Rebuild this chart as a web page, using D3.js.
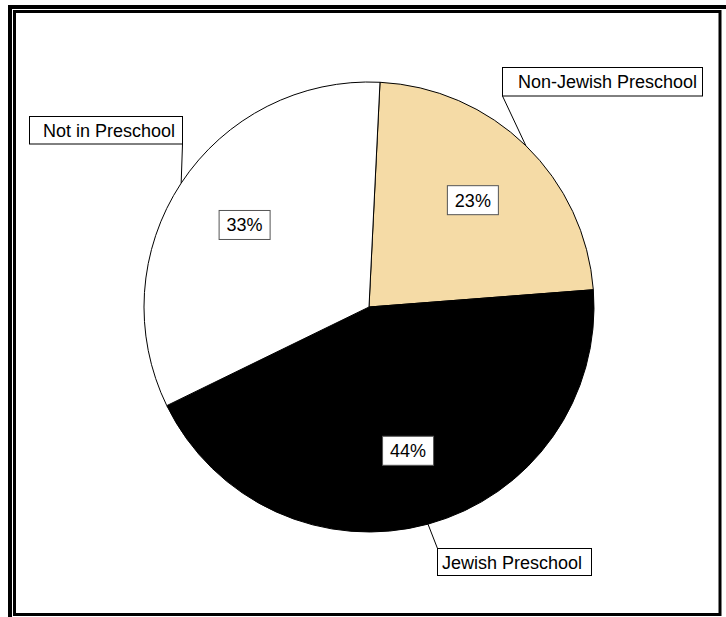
<!DOCTYPE html>
<html>
<head>
<meta charset="utf-8">
<script src="https://cdn.jsdelivr.net/npm/d3@7"></script>
<style>
  html, body { margin: 0; padding: 0; background: #fff; }
  svg { display: block; }
  text { font-family: "Liberation Sans", Arial, sans-serif; }
</style>
</head>
<body>
<svg id="chart" width="726" height="617"></svg>
<script>
// Preschool attendance shares
const categories = ["Non-Jewish Preschool", "Jewish Preschool", "Not in Preschool"];
const values = [23, 44, 33];
const colors = ["#F5DBA6", "#000000", "#FFFFFF"];
const pctLabels = ["23%", "44%", "33%"];

const W = 726, H = 617;
const svg = d3.select("#chart");

// double frame (outer heavy rule, inner thin rule)
svg.append("rect").attr("x", 10).attr("y", 7).attr("width", 730).attr("height", 620)
  .attr("fill", "none").attr("stroke", "#000").attr("stroke-width", 4);
svg.append("rect").attr("x", 14.5).attr("y", 11.5).attr("width", 705.5).attr("height", 603)
  .attr("fill", "none").attr("stroke", "#000").attr("stroke-width", 3);

const cx = 369, cy = 307, R = 225;
const start = 2.8 * Math.PI / 180;

const pie = d3.pie().sort(null).value(d => d)
  .startAngle(start).endAngle(start + 2 * Math.PI);
const arcs = pie(values);

const arc = d3.arc().innerRadius(0).outerRadius(R);
const labelArc = d3.arc().innerRadius(149).outerRadius(149);

const g = svg.append("g").attr("transform", `translate(${cx},${cy})`);

g.selectAll("path.slice").data(arcs).enter().append("path")
  .attr("class", "slice")
  .attr("d", arc)
  .attr("fill", (d, i) => colors[i])
  .attr("stroke", "#000").attr("stroke-width", 1);

// percentage tags at slice centroids
const tagW = 51, tagH = 29;
arcs.forEach((d, i) => {
  const [x, y] = labelArc.centroid(d);
  g.append("rect")
    .attr("x", x - tagW / 2).attr("y", y - tagH / 2)
    .attr("width", tagW).attr("height", tagH)
    .attr("fill", "#fff").attr("stroke", "#555").attr("stroke-width", 1);
  g.append("text")
    .attr("x", x).attr("y", y + 6.5)
    .attr("text-anchor", "middle")
    .attr("font-size", 18).attr("fill", "#000")
    .text(pctLabels[i]);
});

// category callouts: box placement and the corner the leader attaches to
const callouts = [
  { box: [502.5, 67.5, 200, 28.5], textX: 518, corner: [502.5, 96] },
  { box: [437.5, 548.5, 154, 27], textX: 442, corner: [437.5, 548.5] },
  { box: [29.5, 116.5, 153, 27.5], textX: 43, corner: [182.5, 144] }
];

arcs.forEach((d, i) => {
  const c = callouts[i];
  const mid = (d.startAngle + d.endAngle) / 2;
  const ex = cx + R * Math.sin(mid), ey = cy - R * Math.cos(mid);
  svg.append("line")
    .attr("x1", ex).attr("y1", ey)
    .attr("x2", c.corner[0]).attr("y2", c.corner[1])
    .attr("stroke", "#000").attr("stroke-width", 1);
  svg.append("rect")
    .attr("x", c.box[0]).attr("y", c.box[1])
    .attr("width", c.box[2]).attr("height", c.box[3])
    .attr("fill", "#fff").attr("stroke", "#000").attr("stroke-width", 1);
  svg.append("text")
    .attr("x", c.textX).attr("y", c.box[1] + c.box[3] / 2 + 6.5)
    .attr("font-size", 18).attr("fill", "#000")
    .text(categories[i]);
});
</script>
</body>
</html>
